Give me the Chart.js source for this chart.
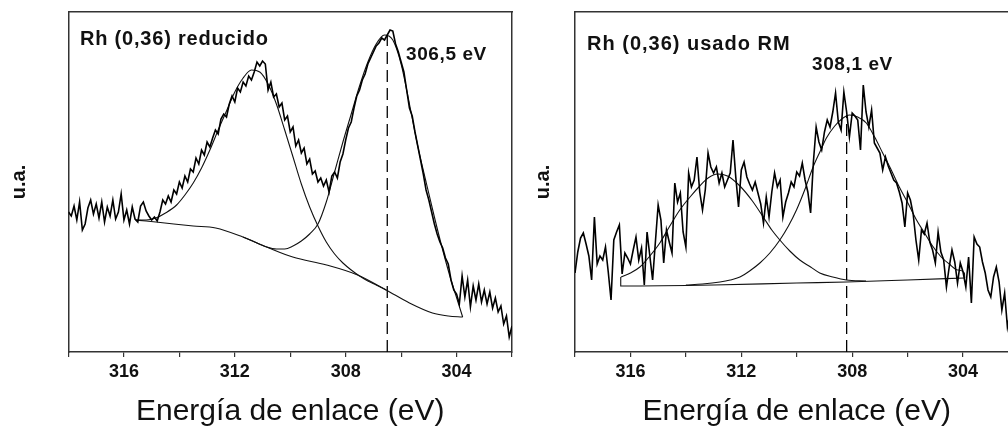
<!DOCTYPE html>
<html>
<head>
<meta charset="utf-8">
<script src="https://cdn.jsdelivr.net/npm/chart.js@4.4.1/dist/chart.umd.min.js"></script>
<style>
  html, body { margin: 0; padding: 0; background: #fff; overflow: hidden; width: 1008px; height: 430px; }
  .panel { position: absolute; top: 0; }
  #panel-a { left: 0; }
  #panel-b { left: 520px; }
</style>
</head>
<body>
<div class="panel" id="panel-a"><canvas id="chart-a" width="540" height="430"></canvas></div>
<div class="panel" id="panel-b"><canvas id="chart-b" width="520" height="430"></canvas></div>
<script>
// EJE DE ENERGÍA (eV), MUESTREO DEL ESPECTRO
const E_INICIO = 318.0;
const E_PASO = 0.1;
const E_MIN = 302;
const E_MAX = 318;
const TICKS_CON_TEXTO = [316, 312, 308, 304];

// Rh (0,36) REDUCIDO: ESPECTRO MEDIDO (318 -> 302 eV)
const reducidoDatos = [
  140, 136, 146, 132, 150, 122, 128, 144, 152, 138,
  148, 134, 150, 130, 145, 136, 152, 133, 140, 158,
  132, 142, 128, 145, 133, 130, 146, 150, 141, 136,
  132, 135, 131, 140, 152,
  148, 156, 150, 162, 158, 170, 164, 176, 170, 183,
  180, 194, 188, 202, 197, 210, 205, 214, 222, 218,
  233, 238, 235, 248, 256, 250, 264, 260, 270, 266,
  276, 272, 280, 290, 286, 291, 288, 262, 270, 255,
  258, 245, 249, 232, 236, 220, 225, 206, 212, 199,
  204, 188, 193, 178, 181, 170, 174, 166, 172, 160,
  176, 180, 174, 190, 198, 212, 224, 230, 244, 256,
  262, 272, 278, 288, 294, 300, 306, 309, 314, 312,
  317, 322, 321, 308, 300, 290, 280, 262, 244, 236,
  220, 206, 192, 178, 162, 152, 140, 128, 118, 110,
  104, 94, 88, 72, 62, 58, 48, 76, 55, 72,
  45, 66, 52, 68, 50, 62, 48, 60, 44, 54,
  40, 46, 28, 36, 15, 26
];
// FONDO Y COMPONENTES AJUSTADAS
const reducidoFondoE = [315.57, 315.2, 314.85, 314.2, 313.5, 312.69, 311.71, 310.85, 309.91, 308.69, 307.57, 306.54, 305.7, 304.87, 304.3, 303.78];
const reducidoFondo  = [132, 131, 130, 128, 126, 124, 115, 105, 95, 87, 77, 62, 49, 39, 36, 35];
const reducidoPico1E = [315.57, 315.2, 314.85, 314.5, 314.1, 313.8, 313.5, 313.2, 312.9, 312.6, 312.3, 312.0, 311.7, 311.4, 311.1, 310.8, 310.5, 310.2, 309.9, 309.6, 309.3, 309.0, 308.7, 308.4, 308.1, 307.8, 307.5, 307.2, 306.9, 306.54];
const reducidoPico1  = [132, 132, 134, 139, 147, 157, 169, 184, 202, 222, 241, 260, 274, 282, 280, 268, 248, 222, 195, 168, 145, 126, 110, 98, 89, 82, 76, 71, 67, 62];
const reducidoPico2E = [311.7, 311.2, 310.85, 310.5, 310.2, 309.9, 309.6, 309.3, 309.0, 308.7, 308.4, 308.1, 307.8, 307.5, 307.2, 306.9, 306.6, 306.3, 306.0, 305.7, 305.4, 305.1, 304.8, 304.5, 304.2, 303.95, 303.78];
const reducidoPico2  = [115, 109, 105, 103, 103, 106, 111, 118, 128, 150, 180, 210, 238, 266, 290, 308, 317, 312, 288, 248, 206, 170, 135, 102, 72, 50, 35];
const reducidoPosicion = 306.5;

// Rh (0,36) USADO RM: ESPECTRO MEDIDO (318 -> 302 eV)
const usadoDatos = [
  79, 100, 114, 119, 108, 96, 72, 135, 88, 96,
  92, 105, 80, 52, 112, 120, 127, 78, 99, 94,
  88, 102, 115, 92, 104, 67, 120, 96, 72, 110,
  147, 132, 89, 122, 110, 99, 169, 150, 159, 120,
  105, 179, 165, 172, 195, 160, 142, 162, 199, 185,
  179, 185, 169, 179, 165, 172, 179, 212, 175, 145,
  182, 190, 175, 168, 162, 170, 159, 148, 129, 155,
  135, 160, 179, 165, 172, 135, 150, 159, 170, 165,
  180, 176, 189, 172, 160, 139, 190, 225, 210, 202,
  220, 232, 225, 240, 259, 230, 222, 260, 240, 215,
  239, 236, 232, 202, 267, 240, 225, 242, 209, 204,
  199, 182, 195, 186, 179, 172, 169, 160, 149, 125,
  159, 152, 138, 112, 92, 122, 118, 129, 110, 102,
  89, 120, 100, 92, 65, 85, 102, 90, 69, 89,
  80, 65, 95, 49, 115, 108, 105, 90, 79, 62,
  55, 75, 85, 70, 42, 59, 25, 40, 30, 35,
  28
];
const usadoFondoE = [316.35, 316.35, 313.0, 310.0, 308.2, 306.0, 303.94];
const usadoFondo  = [75, 66, 67, 69, 70, 72, 74];
const usadoPico1E = [316.34, 316.0, 315.66, 315.3, 314.94, 314.6, 314.22, 313.85, 313.5, 313.2, 312.85, 312.5, 312.05, 311.6, 311.21, 310.9, 310.61, 310.25, 309.89, 309.5, 309.17, 308.7, 308.21, 307.5];
const usadoPico1  = [75, 79, 85, 96, 109, 125, 142, 155, 166, 174, 178, 176, 166, 151, 135, 122, 112, 101, 92, 85, 79, 75, 72, 71];
const usadoPico2E = [314.0, 313.4, 312.77, 312.4, 312.05, 311.7, 311.33, 310.97, 310.61, 310.3, 310.01, 309.7, 309.41, 309.15, 308.93, 308.63, 308.33, 308.1, 307.8, 307.49, 307.19, 306.9, 306.59, 306.3, 305.99, 305.7, 305.39, 305.1, 304.79, 304.5, 304.19, 303.95, 303.94];
const usadoPico2  = [67, 68, 70, 72, 75, 81, 89, 99, 112, 126, 142, 163, 185, 201, 214, 226, 234, 237, 235, 229, 215, 199, 182, 165, 149, 133, 119, 106, 95, 88, 82, 79, 74];
const usadoPosicion = 308.2;

// FUENTES Y COLORES
const FUENTE = "'Liberation Sans', Arial, sans-serif";
const NEGRO = '#111';
const MARCO = '#333';

// CONVERTIR ARREGLOS A PUNTOS {x, y}
function toPoints(xs, ys) {
  return xs.map((x, i) => ({ x: x, y: ys[i] }));
}
function spectrumPoints(values) {
  return values.map((v, i) => ({ x: +(E_INICIO - i * E_PASO).toFixed(2), y: v }));
}

// PLUGIN: TEXTOS DENTRO DEL PANEL
const panelText = {
  id: 'panelText',
  afterDraw(chart, args, opts) {
    const ctx = chart.ctx;
    ctx.save();
    ctx.fillStyle = NEGRO;
    ctx.textAlign = 'left';
    ctx.textBaseline = 'alphabetic';
    (opts.items || []).forEach(t => {
      ctx.font = 'bold ' + t.size + 'px ' + FUENTE;
      if ('letterSpacing' in ctx) ctx.letterSpacing = t.spacing + 'px';
      ctx.fillText(t.text, t.x, t.y);
    });
    ctx.restore();
  }
};

// CREAR UN PANEL XPS
function makePanel(id, cfg) {
  const fitLine = (data) => ({
    data: data,
    borderColor: NEGRO,
    borderWidth: 1.1,
    pointRadius: 0,
    fill: false,
    cubicInterpolationMode: 'monotone'
  });

  return new Chart(document.getElementById(id), {
    type: 'line',
    data: {
      datasets: [
        {
          label: 'Datos',
          data: spectrumPoints(cfg.datos),
          borderColor: '#000',
          borderWidth: 1.6,
          pointRadius: 0,
          fill: false,
          tension: 0
        },
        fitLine(toPoints(cfg.fondoE, cfg.fondo)),
        fitLine(toPoints(cfg.pico1E, cfg.pico1)),
        fitLine(toPoints(cfg.pico2E, cfg.pico2)),
        {
          label: 'Posición',
          data: [{ x: cfg.posicion, y: 0 }, { x: cfg.posicion, y: Math.max(...cfg.pico2) }],
          borderColor: '#000',
          borderWidth: 1.3,
          borderDash: [12, 6],
          pointRadius: 0,
          fill: false
        }
      ]
    },
    options: {
      responsive: false,
      animation: false,
      events: [],
      layout: { padding: { left: 0, right: cfg.padRight, top: 12, bottom: 0 } },
      plugins: {
        legend: { display: false },
        tooltip: { enabled: false },
        panelText: { items: cfg.textos }
      },
      scales: {
        x: {
          type: 'linear',
          min: E_MIN,
          max: E_MAX,
          reverse: true,
          ticks: {
            stepSize: 2,
            autoSkip: false,
            maxRotation: 0,
            padding: 4,
            color: NEGRO,
            font: { family: FUENTE, size: 18, weight: 'bold' },
            callback: v => (TICKS_CON_TEXTO.includes(v) ? String(v) : '')
          },
          grid: { display: true, drawOnChartArea: false, drawTicks: true, tickLength: 5, color: MARCO, lineWidth: 1.2 },
          border: { display: true, color: MARCO, width: 1.5 },
          title: {
            display: true,
            text: 'Energía de enlace (eV)',
            color: NEGRO,
            font: { family: FUENTE, size: 30 },
            padding: { top: 0, bottom: 0 }
          },
          afterFit: s => { s.height = 78; }
        },
        x2: {
          type: 'linear',
          position: 'top',
          min: E_MIN,
          max: E_MAX,
          ticks: { display: false },
          grid: { display: false },
          border: { display: true, color: MARCO, width: 1.5 },
          afterFit: s => { s.height = 0; }
        },
        y: {
          type: 'linear',
          min: 0,
          max: 340,
          ticks: { display: false },
          grid: { display: false },
          border: { display: true, color: MARCO, width: 1.5 },
          title: {
            display: true,
            text: 'u.a.',
            color: NEGRO,
            font: { family: FUENTE, size: 20, weight: 'bold' },
            padding: { top: cfg.tituloY, bottom: 0 }
          },
          afterFit: s => { s.width = cfg.anchoY; }
        },
        y2: {
          type: 'linear',
          position: 'right',
          min: 0,
          max: 340,
          ticks: { display: false },
          grid: { display: false },
          border: { display: true, color: MARCO, width: 1.5 },
          afterFit: s => { s.width = 0; }
        }
      }
    },
    plugins: [panelText]
  });
}

// PANEL IZQUIERDO
makePanel('chart-a', {
  datos: reducidoDatos,
  fondoE: reducidoFondoE, fondo: reducidoFondo,
  pico1E: reducidoPico1E, pico1: reducidoPico1,
  pico2E: reducidoPico2E, pico2: reducidoPico2,
  posicion: reducidoPosicion,
  anchoY: 68.5,
  padRight: 28,
  tituloY: 7.5,
  textos: [
    { text: 'Rh (0,36) reducido', x: 80, y: 45, size: 20, spacing: 0.8 },
    { text: '306,5 eV', x: 406, y: 60, size: 19, spacing: 0.6 }
  ]
});

// PANEL DERECHO (RECORTADO A LA DERECHA)
makePanel('chart-b', {
  datos: usadoDatos,
  fondoE: usadoFondoE, fondo: usadoFondo,
  pico1E: usadoPico1E, pico1: usadoPico1,
  pico2E: usadoPico2E, pico2: usadoPico2,
  posicion: usadoPosicion,
  anchoY: 55,
  padRight: 21.5,
  tituloY: 11,
  textos: [
    { text: 'Rh (0,36) usado RM', x: 67, y: 50, size: 20, spacing: 1.0 },
    { text: '308,1 eV', x: 292, y: 70, size: 19, spacing: 0.6 }
  ]
});
</script>
</body>
</html>
